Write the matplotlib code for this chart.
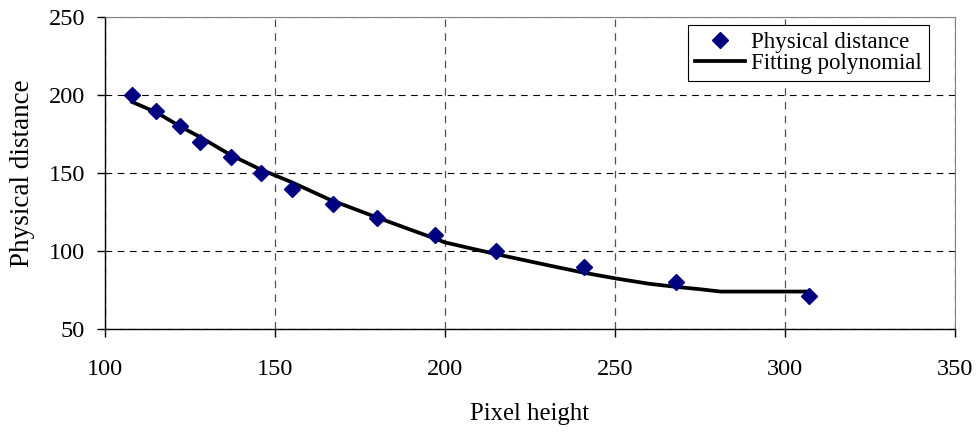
import numpy as np
import matplotlib.pyplot as plt

plt.rcParams['font.family'] = ['Liberation Serif', 'DejaVu Serif']

# measured points
pixel_height = [108, 115, 122, 128, 137, 146, 155, 167, 180, 197, 215, 241, 268, 307]
phys_dist = [200, 190, 180, 170, 160, 150, 140, 130, 121, 110, 100, 90, 80, 71]

# fitting polynomial
fit_x = [108, 115, 122, 128, 137, 146, 150, 155, 166, 180, 197, 200, 215, 230, 241, 250, 260, 268, 275, 281, 290, 300, 307]
fit_y = [195.5, 189, 180, 173, 161.5, 152, 148.5, 144, 133, 121.5, 108, 105.5, 98, 91, 86, 82.5, 79, 77, 75.5, 74, 74, 74, 74]

fig = plt.figure(figsize=(9.8, 4.33), dpi=100)
ax = fig.add_axes([105/980, 1-329/433, 850/980, 312/433])

ax.plot(pixel_height, phys_dist, linestyle='none', marker='D', color='#000080',
        markersize=8, label='Physical distance', zorder=3)
ax.plot(fit_x, fit_y, color='black', linewidth=2.7, label='Fitting polynomial', zorder=2)

ax.set_xlim(100, 350)
ax.set_ylim(50, 250)
ax.set_xticks(np.arange(100, 351, 50))
ax.set_yticks(np.arange(50, 251, 50))
ax.xaxis.grid(True, color='#505050', linestyle=(0, (6, 5)), linewidth=0.9)
ax.yaxis.grid(True, color='black', linestyle=(0, (6, 5)), linewidth=0.8)
ax.tick_params(direction='out', length=5.8, width=1, labelsize=17.5, colors='black')
ax.tick_params(axis='x', pad=15.5)
ax.tick_params(axis='y', pad=8.5)

for s in ['top', 'right']:
    ax.spines[s].set_color('#808080')
for s in ['left', 'bottom']:
    ax.spines[s].set_color('black')
    ax.spines[s].set_linewidth(1.0)

ax.set_xlabel('Pixel height', fontsize=17.8, labelpad=17)
ax.set_ylabel('Physical distance', fontsize=19.5, labelpad=9.5)

leg = ax.legend(loc='upper right', bbox_to_anchor=(929/980, 1-25/433),
                bbox_transform=fig.transFigure, borderaxespad=0, fontsize=16.5,
                frameon=True, fancybox=False, edgecolor='black', framealpha=1,
                handlelength=2.2, handletextpad=0.26, numpoints=1,
                borderpad=0.3, labelspacing=0.0)
leg.get_frame().set_linewidth(0.8)

fig.savefig('out.png', dpi=100)
